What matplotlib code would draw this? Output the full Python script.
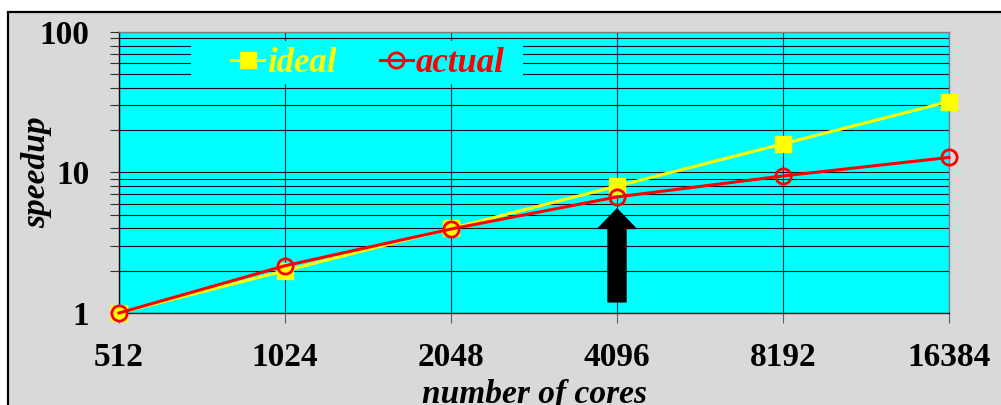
import numpy as np
import matplotlib
matplotlib.use("Agg")
import matplotlib.pyplot as plt
from matplotlib.patches import Rectangle
from matplotlib.ticker import FixedLocator, NullFormatter, LogLocator, NullLocator
from matplotlib.lines import Line2D

# data
cores = [512, 1024, 2048, 4096, 8192, 16384]
ideal = [1, 2, 4, 8, 16, 32]
actual = [1, 2.17, 3.96, 6.7, 9.45, 12.8]
y_ticks = [1, 10, 100]
arrow_x = 4096
arrow_from, arrow_to = 1.2, 5.5

plt.rcParams['font.family'] = ['Liberation Serif', 'DejaVu Serif']
plt.rcParams['font.weight'] = 'bold'

fig = plt.figure(figsize=(10.01, 4.05), dpi=100, facecolor='white')
# gray panel with black border (starts a bit in from the top-left)
fig.patches.append(Rectangle((8 / 1001, -0.02), 1.0, 0.9704 + 0.02,
                             transform=fig.transFigure, facecolor='#d9d9d9',
                             edgecolor='black', lw=1.6, zorder=-10))

ax = fig.add_axes([119 / 1001, 92 / 405, 830 / 1001, 281 / 405])
ax.set_facecolor('#00ffff')

ax.set_xscale('log', base=2)
ax.set_yscale('log')
ax.set_xlim(512, 16384)
ax.set_ylim(1, 100)

ax.xaxis.set_major_locator(FixedLocator(cores))
ax.xaxis.set_minor_locator(NullLocator())
ax.set_xticklabels([str(c) for c in cores])
ax.yaxis.set_major_locator(FixedLocator(y_ticks))
ax.set_yticklabels([str(v) for v in y_ticks])
ax.yaxis.set_minor_locator(LogLocator(base=10, subs=np.arange(2, 10)))
ax.yaxis.set_minor_formatter(NullFormatter())

ax.grid(True, which='major', axis='x', color='#303030', lw=0.8)
ax.grid(True, which='both', axis='y', color='#101010', lw=0.8)
ax.set_axisbelow(True)

ax.tick_params(axis='y', which='both', direction='out', length=6.5, width=0.8,
               color='#303030', left=True, labelsize=24, pad=15)
ax.tick_params(axis='x', which='major', direction='out', length=7, width=0.8,
               color='#606060', labelsize=24, pad=14)
for lab in ax.get_xticklabels() + ax.get_yticklabels():
    lab.set_fontweight('bold')

ax.spines['left'].set_color('black')
ax.spines['bottom'].set_color('#202020')
ax.spines['top'].set_color('#808080')
ax.spines['right'].set_color('#808080')
for s in ax.spines.values():
    s.set_linewidth(1.0)

ax.plot(cores, ideal, color='#ffff00', lw=2.2, marker='s', ms=11,
        mfc='#ffff00', mec='#ffff00', zorder=3, clip_on=False)
ax.plot(cores, actual, color='#ff0000', lw=2.2, marker='o', ms=11,
        mfc='none', mec='#ff0000', mew=2, zorder=4, clip_on=False)

ax.annotate('', xy=(arrow_x, arrow_to), xytext=(arrow_x, arrow_from),
            arrowprops=dict(facecolor='black', edgecolor='black', width=13,
                            headwidth=27, headlength=14, shrink=0), zorder=5)

# cyan legend background that hides the grid
ax.add_patch(Rectangle((0.087, 0.815), 0.40, 0.153, transform=ax.transAxes,
                       facecolor='#00ffff', edgecolor='none', zorder=5))

handles = [Line2D([], [], color='#ffff00', lw=2.2, marker='s', ms=11,
                  mfc='#ffff00', mec='#ffff00'),
           Line2D([], [], color='#ff0000', lw=2.2, marker='o', ms=11,
                  mfc='none', mec='#ff0000', mew=2)]
leg = ax.legend(handles, ['ideal', 'actual'], ncol=2, loc='center left',
                bbox_to_anchor=(0.135, 0.888), borderaxespad=0, borderpad=0,
                handlelength=0.95, handletextpad=0.1, columnspacing=1.23,
                frameon=False, labelcolor='linecolor',
                prop=dict(family='Liberation Serif', style='italic',
                          weight='bold', size=25))
leg.set_zorder(6)

ax.set_ylabel('speedup', fontsize=24, style='italic', fontweight='bold')
ax.set_xlabel('number of cores', fontsize=24, style='italic', fontweight='bold')
ax.yaxis.set_label_coords(-0.08, 0.5)
ax.xaxis.set_label_coords(0.5, -0.235)

fig.savefig('out.png', dpi=100, facecolor=fig.get_facecolor())
